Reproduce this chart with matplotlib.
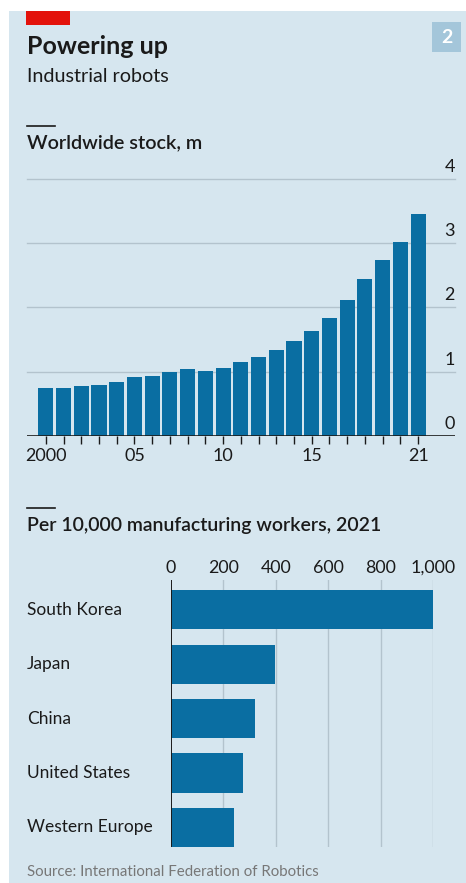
import matplotlib.pyplot as plt
import matplotlib.patches as mpatches
import matplotlib.transforms as mtransforms

# worldwide operational stock of industrial robots, millions
years = list(range(2000, 2022))
stock = [0.75, 0.75, 0.77, 0.80, 0.84, 0.91, 0.94, 0.995, 1.035, 1.015, 1.05,
         1.15, 1.23, 1.33, 1.47, 1.63, 1.83, 2.12, 2.44, 2.74, 3.01, 3.45]
year_ticks = [2000, 2005, 2010, 2015, 2021]
year_labels = ['2000', '05', '10', '15', '21']
stock_ticks = [0, 1, 2, 3, 4]

# robot density 2021, per 10,000 manufacturing workers
countries = ['South Korea', 'Japan', 'China', 'United States', 'Western Europe']
density = [1000, 399, 322, 274, 240]
density_ticks = [0, 200, 400, 600, 800, 1000]
density_labels = ['0', '200', '400', '600', '800', '1,000']

W, H = 466, 883
BG = '#d6e6ef'
BLUE = '#0a6ea2'
GRID = '#b3c3cd'
INK = '#1a1a1a'
plt.rcParams['font.family'] = ['Lato', 'DejaVu Sans']


def fx(x):
    return x / W


def fy(y):
    return 1 - y / H


def box(l, t, r, b):
    return [fx(l), fy(b), (r - l) / W, (b - t) / H]


fig = plt.figure(figsize=(W / 100, H / 100), dpi=100, facecolor='white')
fig.patches.append(mpatches.Rectangle((fx(9), 0), 1, fy(11), transform=fig.transFigure,
                                      facecolor=BG, edgecolor='none', zorder=-5))
fig.patches.append(mpatches.Rectangle((fx(26), fy(25)), fx(44), 14 / H, transform=fig.transFigure,
                                      facecolor='#e3120b', edgecolor='none', zorder=1))
fig.patches.append(mpatches.Rectangle((fx(432), fy(51.5)), fx(29), 29 / H, transform=fig.transFigure,
                                      facecolor='#a4c6da', edgecolor='none', zorder=1))
fig.text(fx(446.5), fy(37.5), '2', color='white', fontsize=14, fontweight='bold',
         ha='center', va='center')

fig.text(fx(27), fy(54.5), 'Powering up', fontsize=18, fontweight='bold', color=INK, va='baseline')
fig.text(fx(27), fy(82), 'Industrial robots', fontsize=14.2, color=INK, va='baseline')

for ly in (126, 507.7):
    fig.add_artist(plt.Line2D([fx(27), fx(55)], [fy(ly), fy(ly)], color=INK, lw=1.2))
fig.text(fx(27), fy(148), 'Worldwide stock, m', fontsize=14.2, fontweight='semibold', color=INK,
         va='baseline')
fig.text(fx(27), fy(531.5), 'Per 10,000 manufacturing workers, 2021', fontsize=14,
         fontweight='semibold', color=INK, va='baseline')
fig.text(fx(27), fy(876), 'Source: International Federation of Robotics', fontsize=10.85,
         color='#777777', va='baseline')

# top chart
ax = fig.add_axes(box(27, 178.7, 455, 436))
ax.set_facecolor('none')
ax.bar(years, stock, width=0.85, color=BLUE, zorder=2)
ax.set_xlim(2000 - 1.06, 2021 + 2.08)
ax.set_ylim(0, 4)
for s in ax.spines.values():
    s.set_visible(False)
for v in stock_ticks[1:]:
    ax.axhline(v, color=GRID, lw=1, zorder=1, clip_on=False)
ax.axhline(0, color=INK, lw=1.2, zorder=3)
trans = mtransforms.blended_transform_factory(ax.transAxes, ax.transData)
for v in stock_ticks:
    ax.annotate(str(v), (1.0, v), xycoords=trans, xytext=(0, 3), textcoords='offset points',
                ha='right', va='bottom', fontsize=13, color=INK)
ax.set_yticks([])
ax.set_xticks(years, minor=True)
ax.set_xticks(year_ticks)
ax.set_xticklabels(year_labels)
ax.tick_params(axis='x', which='both', length=6, width=1, color=INK, direction='out',
               labelsize=13, pad=3, labelcolor=INK)

# bottom chart
bx = fig.add_axes(box(170.7, 580, 433.3, 847))
bx.set_facecolor('none')
ypos = list(range(len(countries)))
bx.barh(ypos, density, height=0.72, color=BLUE, zorder=2)
bx.set_ylim(len(countries) - 1 + 0.36, -0.546)
bx.set_xlim(0, 1000)
for s in bx.spines.values():
    s.set_visible(False)
for v in density_ticks[1:]:
    bx.axvline(v, color=GRID, lw=1, zorder=1)
bx.axvline(0, color=INK, lw=1.4, zorder=3)
bx.xaxis.tick_top()
bx.set_xticks(density_ticks)
bx.set_xticklabels(density_labels)
bx.tick_params(axis='x', length=0, labelsize=12.8, pad=3, labelcolor=INK)
bx.set_yticks([])
ltrans = mtransforms.blended_transform_factory(fig.transFigure, bx.transData)
for i, c in zip(ypos, countries):
    bx.text(fx(27), i, c, transform=ltrans, ha='left', va='center', fontsize=12.5, color=INK)

fig.savefig('out.png', dpi=100, facecolor=fig.get_facecolor())
